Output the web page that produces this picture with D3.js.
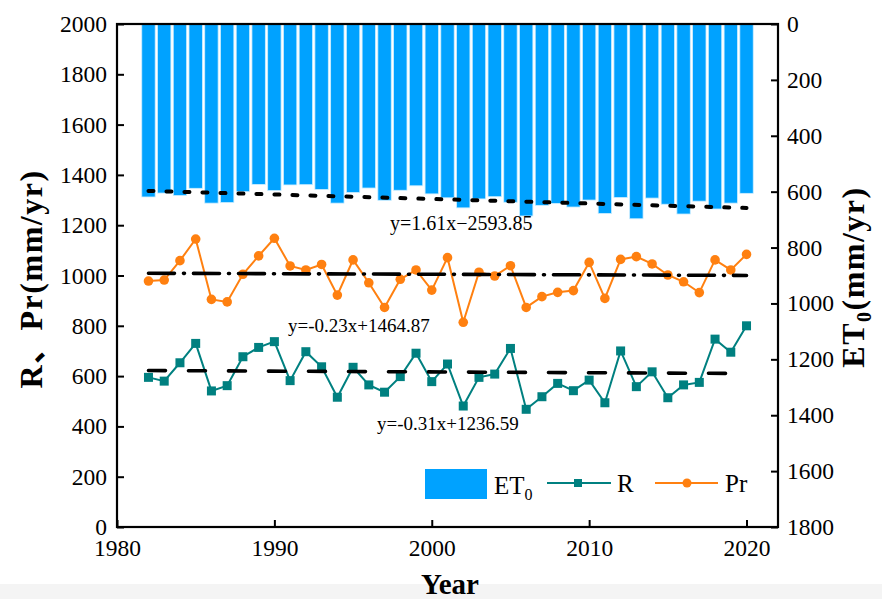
<!DOCTYPE html>
<html>
<head>
<meta charset="utf-8">
<script src="https://cdn.jsdelivr.net/npm/d3@7/dist/d3.min.js"></script>
<style>
  html, body { margin: 0; padding: 0; background: #fff; }
  svg { display: block; }
  svg text { font-family: "Liberation Serif", "Times New Roman", "Noto Sans CJK SC", serif; }
</style>
</head>
<body>
<svg id="chart" width="882" height="599"></svg>
<script>
// Annual series, 1982-2020
const years = d3.range(1982, 2021);
const et0 = [619, 605, 614, 588, 641, 639, 600, 574, 596, 576, 575, 592, 641, 603, 587, 631, 595, 579, 608, 622,
             658, 626, 618, 638, 687, 649, 642, 655, 630, 678, 621, 697, 623, 645, 680, 634, 662, 641, 606];
const pr  = [978, 982, 1059, 1145, 905, 895, 1005, 1078, 1148, 1038, 1022, 1044, 922, 1062, 971, 873, 985, 1022, 942, 1071,
             814, 1013, 998, 1039, 873, 916, 933, 940, 1052, 909, 1064, 1075, 1046, 1002, 975, 932, 1062, 1022, 1084];
const runoff = [595, 580, 653, 730, 541, 562, 677, 714, 737, 582, 697, 637, 516, 635, 565, 536, 598, 691, 578, 648,
                481, 595, 608, 710, 468, 518, 571, 542, 584, 494, 700, 558, 617, 514, 565, 575, 747, 695, 800];

// Linear trends (slope, intercept)
const trendEt0 = [1.61, -2593.85];
const trendPr = [-0.23, 1464.87];
const trendR = [-0.31, 1236.59];

const leftTicks = d3.range(0, 2001, 200);
const rightTicks = d3.range(0, 1801, 200);
const yearTicks = [1980, 1990, 2000, 2010, 2020];

const SERIF = "'Liberation Serif', 'Times New Roman', 'Noto Sans CJK SC', serif";

const svg = d3.select("#chart");
const W = 882, H = 599;
const plot = { left: 117, right: 778, top: 24, bottom: 527 };

// light band along the bottom edge
svg.append("rect").attr("x", 0).attr("y", 584).attr("width", W).attr("height", H - 584).attr("fill", "#f4f4f4");

const x = d3.scaleLinear().domain([1980, 2022]).range([plot.left, plot.right]);
const yL = d3.scaleLinear().domain([0, 2000]).range([plot.bottom, plot.top]);
const yR = d3.scaleLinear().domain([0, 1800]).range([plot.top, plot.bottom]);

const barColor = "#00a2ff";
const rColor = "#008080";
const prColor = "#ff8010";

// ET0 bars hanging from the top (reversed right axis)
const barW = 13.4;
svg.append("g").selectAll("rect").data(years).join("rect")
  .attr("x", d => x(d) - barW / 2)
  .attr("y", yR(0))
  .attr("width", barW)
  .attr("height", (d, i) => yR(et0[i]) - yR(0))
  .attr("fill", barColor)
  .attr("stroke", "#cdeeff")
  .attr("stroke-width", 0.8);

// R and Pr series
const seriesLine = d3.line().x((d, i) => x(years[i])).y(d => yL(d));
svg.append("path").datum(runoff).attr("d", seriesLine).attr("fill", "none").attr("stroke", rColor).attr("stroke-width", 2);
svg.append("g").selectAll("rect").data(runoff).join("rect")
  .attr("x", (d, i) => x(years[i]) - 4.5).attr("y", d => yL(d) - 4.5)
  .attr("width", 9).attr("height", 9).attr("fill", rColor);

svg.append("path").datum(pr).attr("d", seriesLine).attr("fill", "none").attr("stroke", prColor).attr("stroke-width", 2);
svg.append("g").selectAll("circle").data(pr).join("circle")
  .attr("cx", (d, i) => x(years[i])).attr("cy", d => yL(d))
  .attr("r", 4.8).attr("fill", prColor);

// Trend lines
const y0 = years[0], y1 = years[years.length - 1];
function trend(coef, scale, dash, width) {
  const pts = [y0, y1].map(t => [x(t), scale(coef[0] * t + coef[1])]);
  svg.append("path").attr("d", d3.line()(pts))
    .attr("fill", "none").attr("stroke", "#000").attr("stroke-width", width)
    .attr("stroke-dasharray", dash).attr("stroke-linecap", "round");
}
trend(trendEt0, yR, "5,13", 4);
trend(trendPr, yL, "26,9,1,9", 3.6);
trend(trendR, yL, "17,23", 3.6);

// Trend equations
svg.append("text").attr("x", 390).attr("y", 230).attr("font-size", 20).text("y=1.61x\u22122593.85");
svg.append("text").attr("x", 288).attr("y", 332).attr("font-size", 19).text("y=-0.23x+1464.87");
svg.append("text").attr("x", 377).attr("y", 430).attr("font-size", 19).text("y=-0.31x+1236.59");

// Axes
const axFont = 23.5;
const gL = svg.append("g").attr("transform", `translate(${plot.left},0)`)
  .call(d3.axisLeft(yL).tickValues(leftTicks).tickSize(-7).tickPadding(10).tickFormat(d3.format("d")));
const gB = svg.append("g").attr("transform", `translate(0,${plot.bottom})`)
  .call(d3.axisBottom(x).tickValues(yearTicks).tickSize(-7).tickPadding(12).tickFormat(d3.format("d")));
const gR = svg.append("g").attr("transform", `translate(${plot.right},0)`)
  .call(d3.axisRight(yR).tickValues(rightTicks).tickSize(-7).tickPadding(9).tickFormat(d3.format("d")));
[gL, gB, gR].forEach(g => {
  g.attr("font-family", SERIF).attr("font-size", axFont);
  g.select(".domain").remove();
  g.selectAll(".tick line").attr("stroke", "#000").attr("stroke-width", 2);
  g.selectAll(".tick text").attr("fill", "#000")
    .style("font-family", SERIF).style("font-size", axFont + "px");
});
// frame
svg.append("rect").attr("x", plot.left).attr("y", plot.top)
  .attr("width", plot.right - plot.left).attr("height", plot.bottom - plot.top)
  .attr("fill", "none").attr("stroke", "#000").attr("stroke-width", 2.2);

// Axis titles
svg.append("text").attr("transform", `translate(42,279) rotate(-90)`)
  .attr("text-anchor", "middle").attr("font-size", 32).attr("font-weight", "bold")
  .attr("letter-spacing", 1.5)
  .text("R\u3001Pr(mm/yr)");
const rt = svg.append("text").attr("transform", `translate(864,277) rotate(-90)`)
  .attr("text-anchor", "middle").attr("font-size", 32).attr("font-weight", "bold")
  .attr("letter-spacing", 1.5);
rt.append("tspan").text("ET");
rt.append("tspan").attr("font-size", 20).attr("dy", 7).text("0");
rt.append("tspan").attr("dy", -7).text("(mm/yr)");
svg.append("text").attr("x", 450).attr("y", 594).attr("text-anchor", "middle")
  .attr("font-size", 29).attr("font-weight", "bold").text("Year");

// Legend
const lg = svg.append("g");
lg.append("rect").attr("x", 425).attr("y", 469).attr("width", 62).attr("height", 30).attr("fill", barColor);
const l1 = lg.append("text").attr("x", 494).attr("y", 494).attr("font-size", 25);
l1.append("tspan").text("ET");
l1.append("tspan").attr("font-size", 16).attr("dy", 6).text("0");
lg.append("line").attr("x1", 547).attr("x2", 611).attr("y1", 483).attr("y2", 483).attr("stroke", rColor).attr("stroke-width", 2);
lg.append("rect").attr("x", 574).attr("y", 479).attr("width", 8).attr("height", 8).attr("fill", rColor);
lg.append("text").attr("x", 617).attr("y", 492).attr("font-size", 25).text("R");
lg.append("line").attr("x1", 655).attr("x2", 718).attr("y1", 483).attr("y2", 483).attr("stroke", prColor).attr("stroke-width", 2);
lg.append("circle").attr("cx", 687).attr("cy", 483).attr("r", 4.5).attr("fill", prColor);
lg.append("text").attr("x", 725).attr("y", 492).attr("font-size", 25).text("Pr");
</script>
</body>
</html>
